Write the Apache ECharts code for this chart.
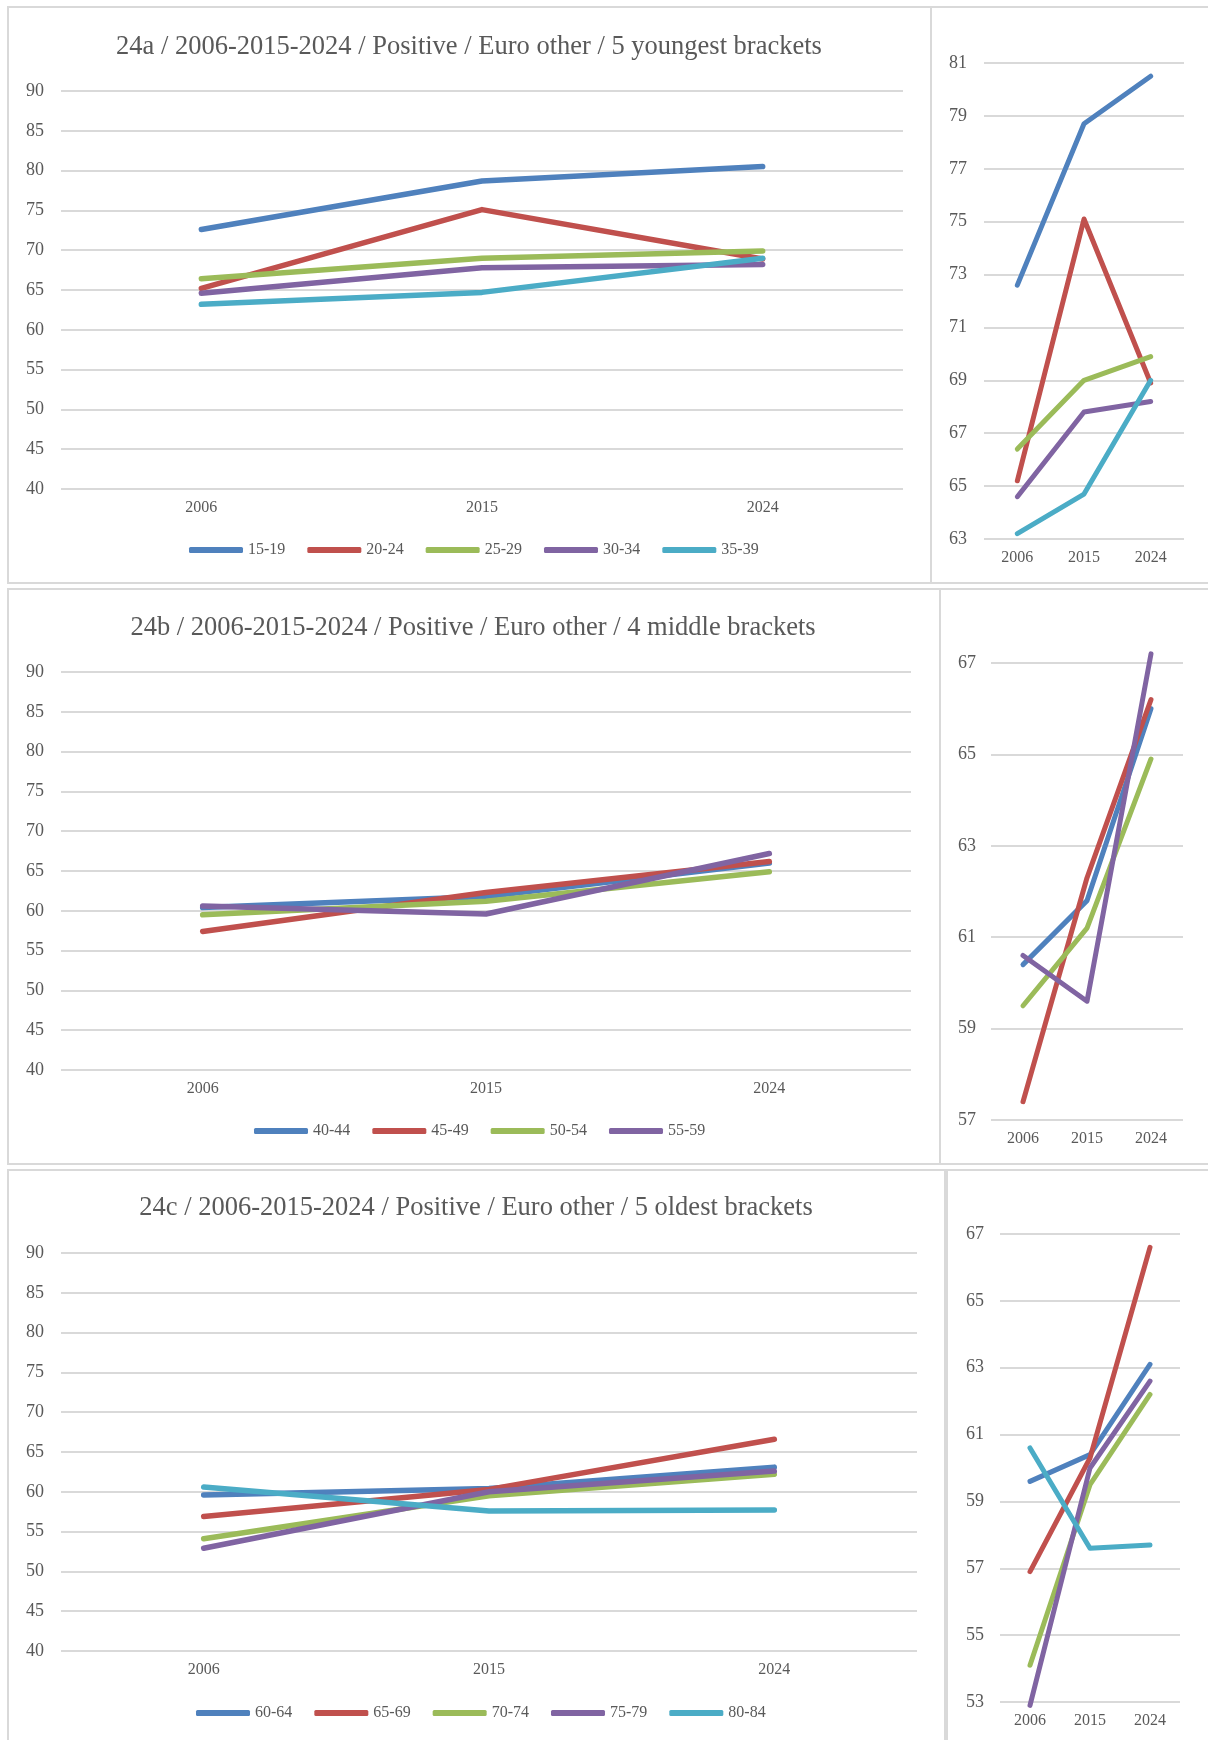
<!DOCTYPE html>
<html>
<head>
<meta charset="utf-8">
<script src="https://cdn.jsdelivr.net/npm/echarts@6/dist/echarts.min.js"></script>
<style>
  html, body { margin: 0; padding: 0; background: #fff; }
  #main { width: 1208px; height: 1740px; }
</style>
</head>
<body>
<div id="main"></div>
<script>
// years on the x axis
var years = ['2006', '2015', '2024'];

// 24a - 5 youngest brackets
var namesA = ['15-19', '20-24', '25-29', '30-34', '35-39'];
var a1519 = [72.6, 78.7, 80.5];
var a2024 = [65.2, 75.1, 68.9];
var a2529 = [66.4, 69.0, 69.9];
var a3034 = [64.6, 67.8, 68.2];
var a3539 = [63.2, 64.7, 69.0];

// 24b - 4 middle brackets
var namesB = ['40-44', '45-49', '50-54', '55-59'];
var b4044 = [60.4, 61.8, 66.0];
var b4549 = [57.4, 62.3, 66.2];
var b5054 = [59.5, 61.2, 64.9];
var b5559 = [60.6, 59.6, 67.2];

// 24c - 5 oldest brackets
var namesC = ['60-64', '65-69', '70-74', '75-79', '80-84'];
var c6064 = [59.6, 60.4, 63.1];
var c6569 = [56.9, 60.3, 66.6];
var c7074 = [54.1, 59.5, 62.2];
var c7579 = [52.9, 60.0, 62.6];
var c8084 = [60.6, 57.6, 57.7];

var titles = [
    '24a / 2006-2015-2024 / Positive / Euro other / 5 youngest brackets',
    '24b / 2006-2015-2024 / Positive / Euro other / 4 middle brackets',
    '24c / 2006-2015-2024 / Positive / Euro other / 5 oldest brackets'
];

// y axis ranges: main charts share one, the zoomed ones differ
var mainRange = [40, 90, 5];
var zoomRanges = [[63, 81, 2], [57, 67, 2], [53, 67, 2]];

var colors = ['#4F81BD', '#C0504D', '#9BBB59', '#8064A2', '#4BACC6'];
var fontFam = '"Liberation Serif", "Times New Roman", serif';
var textGray = '#595959';
var lineGray = '#D9D9D9';

function drawAll() {
    var dom = document.getElementById('main');
    var myChart = echarts.init(dom, null, { renderer: 'canvas' });

    var rows = [
        { names: namesA, data: [a1519, a2024, a2529, a3034, a3539] },
        { names: namesB, data: [b4044, b4549, b5054, b5559] },
        { names: namesC, data: [c6064, c6569, c7074, c7579, c8084] }
    ];

    // page layout (px)
    var grids = [
        { left: 61, top: 91, width: 842, height: 398 },
        { left: 984, top: 63, width: 200, height: 476 },
        { left: 61, top: 672, width: 850, height: 398 },
        { left: 991, top: 663, width: 192, height: 457 },
        { left: 61, top: 1253, width: 856, height: 398 },
        { left: 1000, top: 1234, width: 180, height: 468 }
    ];
    var titlePos = [[469, 47.5], [473, 628.5], [476, 1209]];
    var legendPos = [[189, 551], [254, 1132], [196, 1714]];
    var yMargins = [17, 17, 17, 15, 17, 16];
    var panels = [
        [8, 7, 923, 576], [931, 7, 290, 576],
        [8, 589, 932, 575], [940, 589, 290, 575],
        [8, 1170, 937, 590], [947, 1170, 290, 590]
    ];

    var xAxis = [], yAxis = [], series = [], title = [], legend = [];

    for (var g = 0; g < 6; g++) {
        var row = Math.floor(g / 2);
        var isZoom = g % 2 === 1;
        var rng = isZoom ? zoomRanges[row] : mainRange;
        xAxis.push({
            type: 'category',
            gridIndex: g,
            data: years,
            boundaryGap: true,
            axisLine: { show: false },
            axisTick: { show: false },
            axisLabel: { color: textGray, fontFamily: fontFam, fontSize: 16, margin: 11 }
        });
        yAxis.push({
            type: 'value',
            gridIndex: g,
            min: rng[0],
            max: rng[1],
            interval: rng[2],
            axisLine: { show: false },
            axisTick: { show: false },
            axisLabel: { color: textGray, fontFamily: fontFam, fontSize: 18, margin: yMargins[g] },
            splitLine: { lineStyle: { color: lineGray, width: 2 } }
        });
        rows[row].names.forEach(function (name, i) {
            series.push({
                name: name,
                type: 'line',
                xAxisIndex: g,
                yAxisIndex: g,
                data: rows[row].data[i],
                symbol: 'none',
                clip: false,
                color: colors[i],
                itemStyle: { color: colors[i] },
                lineStyle: { color: colors[i], width: isZoom ? 5 : 5.5, cap: 'round', join: 'round' },
                emphasis: { disabled: true }
            });
        });
    }

    for (var r = 0; r < 3; r++) {
        title.push({
            text: titles[r],
            left: titlePos[r][0],
            top: titlePos[r][1] - 14,
            textAlign: 'center',
            padding: 0,
            textStyle: { color: textGray, fontFamily: fontFam, fontSize: 26.5, fontWeight: 'normal' }
        });
        legend.push({
            data: rows[r].names,
            left: legendPos[r][0],
            top: legendPos[r][1] - 9,
            padding: 0,
            icon: 'roundRect',
            itemWidth: 54,
            itemHeight: 6,
            itemGap: 22,
            textStyle: { color: textGray, fontFamily: fontFam, fontSize: 16 }
        });
    }

    var graphic = panels.map(function (p) {
        return {
            type: 'rect',
            silent: true,
            shape: { x: p[0], y: p[1], width: p[2], height: p[3] },
            style: { fill: 'none', stroke: lineGray, lineWidth: 2 }
        };
    });

    var option = {
        animation: false,
        backgroundColor: '#fff',
        title: title,
        legend: legend,
        grid: grids,
        xAxis: xAxis,
        yAxis: yAxis,
        series: series,
        graphic: graphic
    };

    myChart.setOption(option);
    window.addEventListener('resize', myChart.resize);
}

drawAll();
</script>
</body>
</html>
